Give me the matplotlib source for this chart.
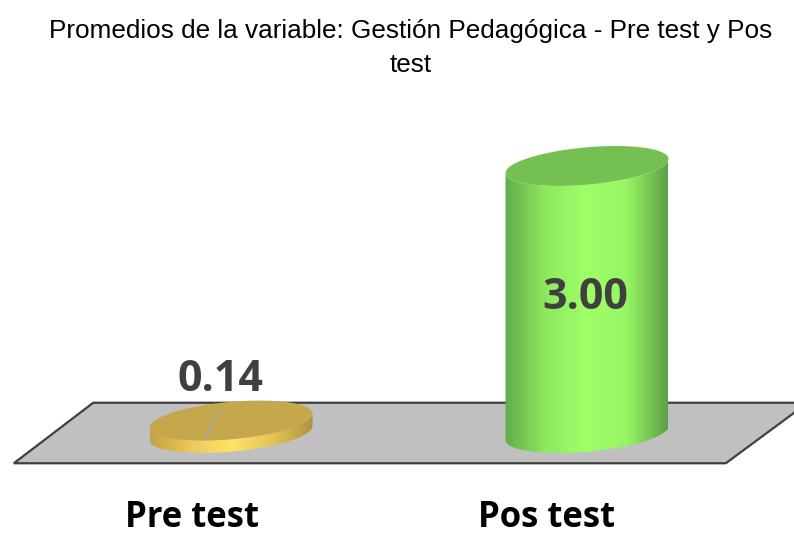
import numpy as np
from matplotlib import pyplot as plt
from matplotlib.colors import LinearSegmentedColormap
from matplotlib.patches import PathPatch, Polygon
from matplotlib.path import Path

categories = ['Pre test', 'Pos test']
values = [0.14, 3.00]
value_labels = ['0.14', '3.00']
title = 'Promedios de la variable: Gestión Pedagógica - Pre test y Pos\ntest'

side_colors = [['#c4a244', '#ecc95a', '#ffe368', '#e6c455', '#b0923e'],
               ['#62ad4c', '#8fe860', '#9fff68', '#97f564', '#5f9f48']]
top_colors = ['#c6a84c', '#74c152']

W, H = 794, 536
X0, DX = 231, 356   # px of first category, px per category
Y0, DY = 433, 89    # px of value 0, px per unit

fig = plt.figure(figsize=(W / 100, H / 100), dpi=100)
ax = fig.add_axes([0, 0, 1, 1])
ax.set_xlim(-X0 / DX, (W - X0) / DX)
ax.set_ylim(-(H - Y0) / DY, Y0 / DY)
ax.axis('off')

# floor, in bar widths / value units
floor = Polygon([(-0.61, -0.34), (1.39, -0.34), (1.62, 0.34), (-0.387, 0.34)],
                facecolor='#c0c0c0', edgecolor='#404040', linewidth=1.6, zorder=1)
ax.add_patch(floor)

half_w = 81.5 / DX
tilt = 7 / DY
half_h = 18.7 / DY
t = np.linspace(0, 2 * np.pi, 200)


def ring(x, y):
    return x + half_w * np.cos(t), y + half_h * np.sin(t) + tilt * np.cos(t)


for i, v in enumerate(values):
    bx, by = ring(i, 0)
    tx, ty = ring(i, v)
    # body = lower half of base ellipse + upper edge of the top one
    low = np.sin(t) <= 0
    order = np.argsort(bx[low])
    low_x, low_y = bx[low][order], by[low][order]
    xs = np.r_[low_x, low_x[::-1]]
    ys = np.r_[low_y, (low_y + v)[::-1]]
    body = PathPatch(Path(np.c_[xs, ys]), facecolor='none', edgecolor='none', zorder=2 + i)
    ax.add_patch(body)
    cmap = LinearSegmentedColormap.from_list('side', side_colors[i])
    img = ax.imshow(np.linspace(0, 1, 256)[None, :], cmap=cmap, aspect='auto', zorder=2 + i,
                    extent=(i - half_w, i + half_w, -0.3, v + 0.3))
    img.set_clip_path(body)
    ax.fill(tx, ty, color=top_colors[i], linewidth=0, zorder=2.5 + i)

ax.set_xlim(-X0 / DX, (W - X0) / DX)
ax.set_ylim(-(H - Y0) / DY, Y0 / DY)

# leader line of the small bar
ax.plot([-0.073, -0.028], [-0.06, 0.28], color='#a6a6a6', linewidth=1.2, zorder=4)

ax.text(-0.03, 0.60, value_labels[0], ha='center', va='center', fontsize=31,
        fontweight='bold', family='Open Sans', color='#404040', zorder=6)
ax.text(0.995, 1.52, value_labels[1], ha='center', va='center', fontsize=31,
        fontweight='bold', family='Open Sans', color='#404040', zorder=6)

for i, c in enumerate(categories):
    ax.text(i - 0.11 - 0.003 * i, -0.96, c, ha='center', va='center', fontsize=25,
            fontweight='bold', family='Open Sans', color='black')

fig.text(0.517, 0.9645, title, ha='center', va='top', fontsize=18.8,
         family='Liberation Sans', color='black', linespacing=1.5)

fig.savefig('out.png', dpi=100)
